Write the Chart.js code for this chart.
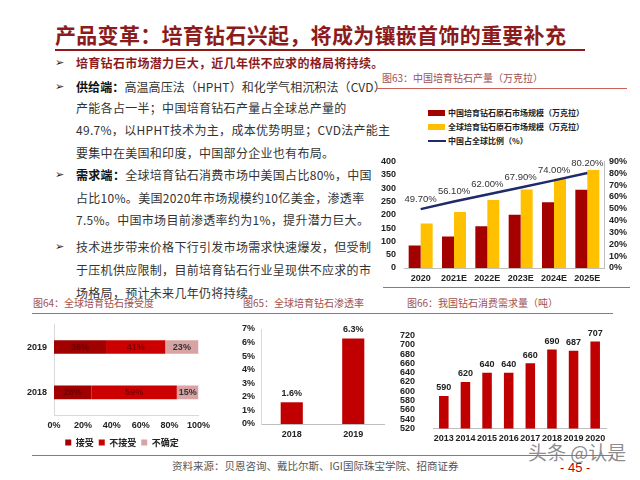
<!DOCTYPE html>
<html><head><meta charset="utf-8">
<script src="https://cdn.jsdelivr.net/npm/chart.js@4.4.0/dist/chart.umd.min.js"></script>
<style>
html,body{margin:0;padding:0;background:#fff;}
#page{position:relative;width:640px;height:480px;overflow:hidden;font-family:"Noto Sans CJK SC","Noto Sans",sans-serif;}
.t{position:absolute;white-space:nowrap;}
.body{font-size:12px;letter-spacing:0.3px;color:#333;line-height:16px;height:16px;left:76px;}
.bul{position:absolute;left:55px;font-family:"DejaVu Sans";font-size:11px;color:#222;line-height:16px;height:16px;}
.cap{font-size:10px;color:#A0504F;line-height:12px;height:12px;}
.hl{position:absolute;height:1px;background:#C8605C;}
.lg{font-size:8px;font-weight:bold;color:#222;line-height:10px;height:10px;left:448px;}
canvas{position:absolute;}
</style></head>
<body><div id="page">
<div class="t" style="left:55px;top:20px;font-size:21px;line-height:28px;font-weight:bold;color:#8C1B1B;letter-spacing:0.3px;">产品变革：培育钻石兴起，将成为镶嵌首饰的重要补充</div>
<div style="position:absolute;left:55px;top:49px;width:530px;height:2px;background:#8C1B1B;"></div>

<div class="bul" style="top:55px;">➢</div>
<div class="t body" style="top:55px;color:#8C1B1B;font-weight:bold;">培育钻石市场潜力巨大，近几年供不应求的格局将持续。</div>
<div class="bul" style="top:79px;">➢</div>
<div class="t body" style="top:79px;letter-spacing:0.1px;"><b style="color:#111">供给端：</b>高温高压法（HPHT）和化学气相沉积法（CVD）</div>
<div class="t body" style="top:100px;">产能各占一半；中国培育钻石产量占全球总产量的</div>
<div class="t body" style="top:122px;">49.7%，以HPHT技术为主，成本优势明显；CVD法产能主</div>
<div class="t body" style="top:145px;">要集中在美国和印度，中国部分企业也有布局。</div>
<div class="bul" style="top:167px;">➢</div>
<div class="t body" style="top:167px;"><b style="color:#111">需求端：</b>全球培育钻石消费市场中美国占比80%，中国</div>
<div class="t body" style="top:190px;">占比10%。美国2020年市场规模约10亿美金，渗透率</div>
<div class="t body" style="top:212px;">7.5%。中国市场目前渗透率约为1%，提升潜力巨大。</div>
<div class="bul" style="top:239px;">➢</div>
<div class="t body" style="top:239px;">技术进步带来价格下行引发市场需求快速爆发，但受制</div>
<div class="t body" style="top:262px;">于压机供应限制，目前培育钻石行业呈现供不应求的市</div>
<div class="t body" style="top:285px;">场格局，预计未来几年仍将持续。</div>

<div class="t cap" style="left:382px;top:72px;">图63：中国培育钻石产量（万克拉）</div>
<div class="hl" style="left:377px;top:88px;width:250px;"></div>
<div style="position:absolute;left:428px;top:110px;width:17px;height:6px;background:#A50000;"></div>
<div class="t lg" style="top:108px;">中国培育钻石原石市场规模（万克拉）</div>
<div style="position:absolute;left:428px;top:124px;width:17px;height:6px;background:#FFC000;"></div>
<div class="t lg" style="top:122px;">全球培育钻石原石市场规模（万克拉）</div>
<div style="position:absolute;left:428px;top:140px;width:18px;height:2px;background:#1F2A6B;"></div>
<div class="t lg" style="top:136px;">中国占全球比例（%）</div>
<div class="hl" style="left:383px;top:287px;width:247px;"></div>

<div class="t cap" style="left:33px;top:297px;">图64：全球培育钻石接受度</div>
<div class="t cap" style="left:243px;top:297px;">图65：全球培育钻石渗透率</div>
<div class="t cap" style="left:407px;top:297px;">图66：我国钻石消费需求量（吨）</div>
<div class="hl" style="left:32px;top:313px;width:581px;"></div>
<div class="hl" style="left:32px;top:455px;width:581px;"></div>
<div class="t" style="left:172px;top:459px;font-size:10.5px;line-height:13px;color:#555;">资料来源：贝恩咨询、戴比尔斯、IGI国际珠宝学院、招商证券</div>
<div class="t" style="left:560px;top:461px;font-size:13px;line-height:14px;color:#C00000;font-family:'Liberation Sans';">- 45 -</div>
<div class="t" style="left:528px;top:441px;font-size:19px;line-height:22px;color:rgba(120,120,120,0.85);">头条 @认是</div>

<canvas id="c63" width="262" height="140" style="left:372px;top:148px;width:262px;height:140px;"></canvas>
<canvas id="c64" width="215" height="145" style="left:0px;top:312px;width:215px;height:145px;"></canvas>
<canvas id="c65" width="185" height="130" style="left:215px;top:315px;width:185px;height:130px;"></canvas>
<canvas id="c66" width="225" height="140" style="left:395px;top:312px;width:225px;height:140px;"></canvas>
</div>
<script>
// ---- data ----
const years63 = ['2020', '2021E', '2022E', '2023E', '2024E', '2025E'];
const china63 = [84, 118, 157, 200, 247, 294];
const global63 = [167, 210, 255, 295, 335, 368];
const share63 = [49.7, 56.1, 62.0, 67.9, 74.0, 80.2];

const years64 = ['2019', '2018'];
const accept64 = [36, 26];
const reject64 = [41, 59];
const unsure64 = [23, 15];
const legend64 = ['接受', '不接受', '不确定'];

const years65 = ['2018', '2019'];
const penetration65 = [1.6, 6.3];

const years66 = ['2013', '2014', '2015', '2016', '2017', '2018', '2019', '2020'];
const demand66 = [590, 620, 640, 640, 660, 690, 687, 707];

// ---- helpers ----
Chart.defaults.font.family = '"Liberation Sans", Arial, sans-serif';
Chart.defaults.animation = false;
const fixW = w => s => { s.width = w; };
const fixH = h => s => { s.height = h; };
const tickFont = {size: 9, weight: 'bold'};

function labels(sets) {
  return {
    id: 'vlabels',
    afterDatasetsDraw(chart) {
      const ctx = chart.ctx;
      sets.forEach(s => {
        const meta = chart.getDatasetMeta(s.index);
        const ds = chart.data.datasets[s.index];
        ctx.save();
        ctx.font = s.font;
        ctx.fillStyle = s.color;
        ctx.textAlign = 'center';
        ctx.textBaseline = 'middle';
        meta.data.forEach((el, i) => {
          const txt = s.fmt(ds.data[i]);
          let x, y;
          if (s.mode === 'center') {
            const p = el.getProps(['x', 'base', 'y'], true);
            x = (p.x + p.base) / 2; y = p.y;
          } else {
            const p = el.getProps(['x', 'y'], true);
            x = p.x; y = p.y - s.offset;
          }
          ctx.fillText(txt, x, y);
        });
        ctx.restore();
      });
    }
  };
}
// shift a legend horizontally after layout
const legendShift = dx => ({
  id: 'legendShift',
  afterLayout(chart) { if (chart.legend) { chart.legend.left += dx; chart.legend.right += dx; } }
});

// ---- Fig 63 ----
new Chart(document.getElementById('c63'), {
  type: 'bar',
  data: {
    labels: years63,
    datasets: [
      {type: 'line', label: '中国占全球比例（%）', data: share63, yAxisID: 'y1', borderColor: '#1F2A6B', borderWidth: 2.5, pointRadius: 0, order: 0},
      {label: '中国培育钻石原石市场规模（万克拉）', data: china63, backgroundColor: '#A50000', yAxisID: 'y', order: 1, categoryPercentage: 0.72, barPercentage: 1},
      {label: '全球培育钻石原石市场规模（万克拉）', data: global63, backgroundColor: '#FFC000', yAxisID: 'y', order: 1, categoryPercentage: 0.72, barPercentage: 1}
    ]
  },
  options: {
    responsive: false, animation: false,
    layout: {padding: {top: 9, left: 0, right: 0, bottom: 0}},
    plugins: {legend: {display: false}, tooltip: {enabled: false}},
    scales: {
      x: {grid: {display: false, drawTicks: false}, border: {color: '#bfbfbf'}, ticks: {padding: 5, font: tickFont, color: '#222', autoSkip: false, maxRotation: 0}, afterFit: fixH(20)},
      y: {position: 'left', min: 0, max: 400, ticks: {stepSize: 50, autoSkip: false, padding: 8, font: tickFont, color: '#222'}, grid: {display: false, drawTicks: false}, border: {display: false}, afterFit: fixW(32)},
      y1: {position: 'right', min: 0, max: 90, ticks: {stepSize: 10, autoSkip: false, padding: 5, font: tickFont, color: '#222', callback: v => v + '%'}, grid: {display: false, drawTicks: false}, border: {color: '#bfbfbf'}, afterFit: fixW(30)}
    }
  },
  plugins: [labels([{index: 0, offset: 10, font: '9.5px "Liberation Sans"', color: '#333', fmt: v => v.toFixed(2) + '%'}])]
});

// ---- Fig 64 ----
new Chart(document.getElementById('c64'), {
  type: 'bar',
  data: {
    labels: years64,
    datasets: [
      {label: legend64[0], data: accept64, backgroundColor: '#A00000', categoryPercentage: 0.3, barPercentage: 1},
      {label: legend64[1], data: reject64, backgroundColor: '#CC0000', categoryPercentage: 0.3, barPercentage: 1},
      {label: legend64[2], data: unsure64, backgroundColor: '#D9A3A3', categoryPercentage: 0.3, barPercentage: 1}
    ]
  },
  options: {
    indexAxis: 'y', responsive: false, animation: false,
    layout: {padding: {top: 3.5, left: 18, right: 15, bottom: 0}},
    plugins: {
      tooltip: {enabled: false},
      legend: {position: 'bottom', labels: {boxWidth: 6, boxHeight: 6, padding: 5, color: '#222', font: {size: 9, family: '"Noto Sans CJK SC"', weight: 'bold'}}}
    },
    scales: {
      x: {stacked: true, min: 0, max: 100, ticks: {stepSize: 20, autoSkip: false, padding: 5, font: tickFont, color: '#222', callback: v => v + '%'}, grid: {display: false, drawTicks: false}, border: {color: '#d9d9d9'}, afterFit: fixH(18)},
      y: {stacked: true, ticks: {padding: 7, font: tickFont, color: '#222'}, grid: {display: false, drawTicks: false}, border: {color: '#d9d9d9'}, afterFit: fixW(36)}
    }
  },
  plugins: [legendShift(13), labels([
    {index: 0, mode: 'center', font: 'bold 9px "Liberation Sans"', color: '#6a0000', fmt: v => v + '%'},
    {index: 1, mode: 'center', font: 'bold 9px "Liberation Sans"', color: '#7a0000', fmt: v => v + '%'},
    {index: 2, mode: 'center', font: 'bold 9px "Liberation Sans"', color: '#333', fmt: v => v + '%'}
  ])]
});

// ---- Fig 65 ----
new Chart(document.getElementById('c65'), {
  type: 'bar',
  data: {labels: years65, datasets: [{label: '渗透率', data: penetration65, backgroundColor: '#C00000', categoryPercentage: 0.72, barPercentage: 0.5}]},
  options: {
    responsive: false, animation: false,
    layout: {padding: {top: 14, left: 0, right: 16, bottom: 0}},
    plugins: {legend: {display: false}, tooltip: {enabled: false}},
    scales: {
      x: {grid: {display: false, drawTicks: false}, border: {color: '#bfbfbf'}, ticks: {padding: 5, font: tickFont, color: '#222'}, afterFit: fixH(21)},
      y: {min: 0, max: 7, ticks: {stepSize: 1, autoSkip: false, padding: 6, font: tickFont, color: '#222', callback: v => v + '%'}, grid: {display: false, drawTicks: false}, border: {color: '#d9d9d9'}, afterFit: fixW(46)}
    }
  },
  plugins: [labels([{index: 0, offset: 9, font: 'bold 9px "Liberation Sans"', color: '#222', fmt: v => v.toFixed(1) + '%'}])]
});

// ---- Fig 66 ----
new Chart(document.getElementById('c66'), {
  type: 'bar',
  data: {labels: years66, datasets: [{label: '需求量', data: demand66, backgroundColor: '#C00000', categoryPercentage: 0.9, barPercentage: 0.49}]},
  options: {
    responsive: false, animation: false,
    layout: {padding: {top: 9, left: 0, right: 14, bottom: 0}},
    plugins: {legend: {display: false}, tooltip: {enabled: false}},
    scales: {
      x: {grid: {display: false, drawTicks: false}, border: {color: '#bfbfbf'}, ticks: {padding: 5, font: tickFont, color: '#222', autoSkip: false, maxRotation: 0}, afterFit: fixH(16)},
      y: {min: 520, max: 720, ticks: {stepSize: 20, autoSkip: false, padding: 18, font: tickFont, color: '#222'}, grid: {display: false, drawTicks: false}, border: {display: false}, afterFit: fixW(38)}
    }
  },
  plugins: [labels([{index: 0, offset: 8, font: 'bold 9px "Liberation Sans"', color: '#222', fmt: v => String(v)}])]
});
</script>
</body></html>
